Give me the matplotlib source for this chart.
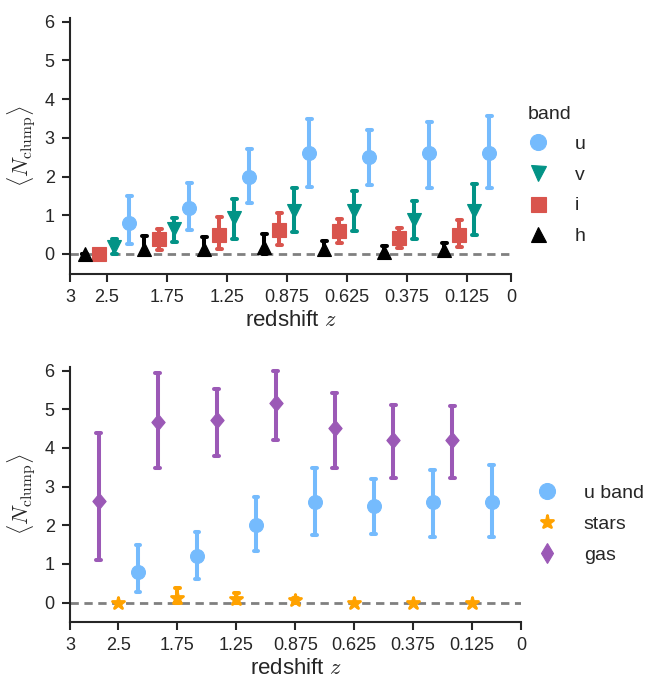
import matplotlib
matplotlib.use("Agg")
import matplotlib.pyplot as plt
from matplotlib.lines import Line2D
from matplotlib.markers import MarkerStyle
import numpy as np

plt.rcParams['font.family'] = ['Liberation Sans', 'DejaVu Sans']
plt.rcParams['mathtext.fontset'] = 'cm'
plt.rcParams['text.color'] = '#262626'
plt.rcParams['axes.labelcolor'] = '#262626'
plt.rcParams['xtick.color'] = '#262626'
plt.rcParams['ytick.color'] = '#262626'

# ---------------- data ----------------
tick_labels = ['3', '2.5', '1.75', '1.25', '0.875', '0.625', '0.375', '0.125', '0']
n_bins = 7

u_mean = [0.8, 1.2, 2.0, 2.6, 2.5, 2.6, 2.6]
u_lo = [0.27, 0.62, 1.33, 1.74, 1.77, 1.71, 1.71]
u_hi = [1.5, 1.83, 2.72, 3.48, 3.2, 3.42, 3.56]

v_mean = [0.17, 0.65, 0.92, 1.12, 1.12, 0.88, 1.12]
v_lo = [0.0, 0.3, 0.4, 0.57, 0.59, 0.4, 0.49]
v_hi = [0.38, 0.93, 1.42, 1.71, 1.63, 1.38, 1.81]

i_mean = [0.0, 0.4, 0.5, 0.62, 0.6, 0.41, 0.49]
i_lo = [0.0, 0.11, 0.14, 0.23, 0.29, 0.15, 0.18]
i_hi = [0.0, 0.65, 0.96, 1.07, 0.9, 0.66, 0.87]

h_mean = [0.0, 0.14, 0.12, 0.17, 0.12, 0.06, 0.1]
h_lo = [0.0, 0.0, 0.0, 0.0, 0.0, 0.0, 0.0]
h_hi = [0.0, 0.47, 0.45, 0.51, 0.34, 0.2, 0.29]

gas_mean = [2.62, 4.67, 4.72, 5.16, 4.51, 4.21, 4.21]
gas_lo = [1.11, 3.47, 3.8, 4.21, 3.49, 3.22, 3.23]
gas_hi = [4.38, 5.93, 5.53, 5.99, 5.42, 5.11, 5.08]

stars_mean = [0.0, 0.12, 0.1, 0.07, 0.0, 0.0, 0.0]
stars_lo = [0.0, 0.0, 0.0, 0.0, 0.0, 0.0, 0.0]
stars_hi = [0.0, 0.37, 0.24, 0.12, 0.0, 0.0, 0.0]

C_U = '#75bbfd'
C_V = '#029386'
C_I = '#d9544d'
C_H = 'black'
C_STARS = '#ffa200'
C_GAS = '#9b59b6'

diamond = [(0, 1), (0.83, 0), (0, -1), (-0.83, 0), (0, 1)]
star_round = MarkerStyle('*', joinstyle='round')

fig = plt.figure(figsize=(6.52, 6.82), dpi=100)
ax1 = fig.add_axes([70 / 652, 1 - 274 / 682, 441 / 652, (274 - 18.3) / 682])
ax2 = fig.add_axes([70 / 652, 1 - 622 / 682, 451 / 652, (622 - 366.7) / 682])

pos = np.arange(n_bins)


def draw(ax, off, mean, lo, hi, color, marker, ms, mew=0.8):
    x = pos + off
    ax.vlines(x, lo, hi, colors=color, lw=2.9, capstyle='round', zorder=3)
    ax.hlines(lo, x - 0.04, x + 0.04, colors=color, lw=2.9, capstyle='round', zorder=3)
    ax.hlines(hi, x - 0.04, x + 0.04, colors=color, lw=2.9, capstyle='round', zorder=3)
    ln, = ax.plot(x, mean, ls='none', marker=marker, ms=ms, color=color,
                  mec=color, mew=mew, zorder=4)
    return ln


def style(ax, xlim, ylim):
    ax.set_xlim(*xlim)
    ax.set_ylim(*ylim)
    ax.axhline(0, color='#808080', lw=2, dashes=(3, 2), zorder=2)
    ax.set_xticks([xlim[0]] + list(pos) + [xlim[1]])
    ax.set_xticklabels(tick_labels)
    ax.set_yticks(range(7))
    for s in ['top', 'right']:
        ax.spines[s].set_visible(False)
    for s in ['left', 'bottom']:
        ax.spines[s].set_color('#262626')
        ax.spines[s].set_linewidth(1.5)
    ax.tick_params(direction='out', length=6, width=1.5, labelsize=13, pad=5)
    ax.set_xlabel('redshift $z$', fontsize=16, labelpad=3)
    ax.set_ylabel(r'$\langle N_{\rm clump}\rangle$', fontsize=16, labelpad=5)


# top panel
draw(ax1, 0.375, u_mean, u_lo, u_hi, C_U, 'o', 10)
draw(ax1, 0.125, v_mean, v_lo, v_hi, C_V, 'v', 10.2)
draw(ax1, -0.125, i_mean, i_lo, i_hi, C_I, 's', 10.6)
draw(ax1, -0.375, h_mean, h_lo, h_hi, C_H, '^', 10.2)
style(ax1, (-0.617, 6.74), (-0.517, 6.09))

# bottom panel
draw(ax2, 1 / 3, u_mean, u_lo, u_hi, C_U, 'o', 10)
draw(ax2, 0.0, stars_mean, stars_lo, stars_hi, C_STARS, star_round, 9, mew=2.0)
draw(ax2, -1 / 3, gas_mean, gas_lo, gas_hi, C_GAS, diamond, 11.5)
style(ax2, (-0.82, 6.83), (-0.5, 6.1))

# legends
h_top = [Line2D([], [], ls='none', marker='o', ms=11.5, color=C_U, mew=0.8),
         Line2D([], [], ls='none', marker='v', ms=10.8, color=C_V, mew=0.8),
         Line2D([], [], ls='none', marker='s', ms=10.8, color=C_I, mew=0.8),
         Line2D([], [], ls='none', marker='^', ms=10.8, color=C_H, mew=0.8)]
leg1 = fig.legend(h_top, ['u', 'v', 'i', 'h'], title='band', loc='upper left',
                  bbox_to_anchor=(528 / 652, 1 - 106 / 682), frameon=False,
                  alignment='left', handlelength=1.0, handletextpad=1.4,
                  labelspacing=0.67, borderpad=0, borderaxespad=0,
                  fontsize=14, title_fontsize=14)
leg1._legend_box.sep = 9

h_bot = [Line2D([], [], ls='none', marker='o', ms=11.5, color=C_U, mew=0.8),
         Line2D([], [], ls='none', marker=star_round, ms=9.5, color=C_STARS, mew=2.0),
         Line2D([], [], ls='none', marker='d', ms=10.5, color=C_GAS, mew=0.8)]
leg2 = fig.legend(h_bot, ['u band', 'stars', 'gas'], loc='upper left',
                  bbox_to_anchor=(537 / 652, 1 - 484.5 / 682), frameon=False,
                  handlelength=1.0, handletextpad=1.4,
                  labelspacing=0.68, borderpad=0, borderaxespad=0,
                  fontsize=14)

fig.savefig('out.png', dpi=100)
